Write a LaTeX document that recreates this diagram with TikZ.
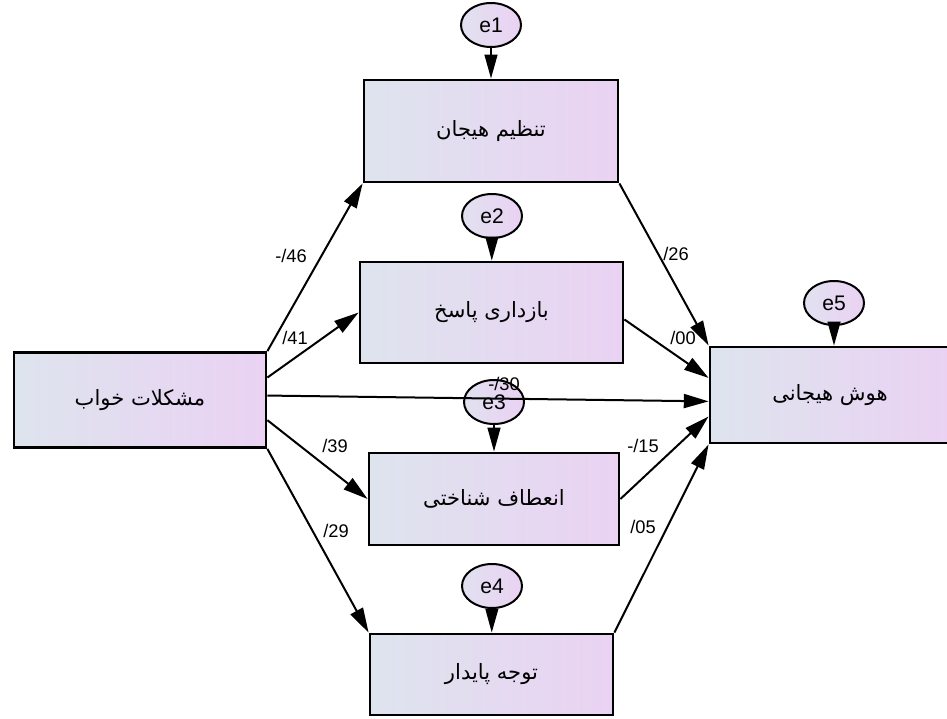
\documentclass[tikz,border=0pt]{standalone}
\usepackage{fontspec}
\setmainfont{Liberation Sans}
\newfontfamily\persiano[Script=Arabic]{DejaVu Sans}
\TeXXeTstate=1
\usepackage{tikz}
\definecolor{Grigioblu}{RGB}{222, 228, 238}
\definecolor{Lilla}{RGB}{234, 210, 243}
\definecolor{Lilla chiaro}{RGB}{230, 220, 242}
\usetikzlibrary{arrows.meta, shapes.geometric}
\tikzset{
    scatola/.style = {draw=black, line width=0.7mm, left color=Grigioblu, right color=Lilla, inner sep=0pt, font=\persiano\fontsize{15}{17}\selectfont},
    errore/.style = {ellipse, draw=black, line width=0.5mm, left color=Grigioblu!60!Lilla chiaro, right color=Lilla, inner sep=0pt, minimum width=15mm, minimum height=11mm, font=\fontsize{15}{17}\selectfont},
    coefficiente/.style = {inner sep=1pt, font=\fontsize{13}{15}\selectfont},
    freccia/.style = {line width=0.5mm, arrows = {-Triangle[length=6.2mm, width=3.5mm]}},
    freccia errore/.style = {line width=0.5mm, arrows = {-Triangle[length=6mm, width=3.2mm]}}
}

\begin{document}
\begin{tikzpicture}[x=0.25mm, y=-0.25mm]
    \useasboundingbox (0,0) rectangle (947,718);

    %%% Variables
    % predictor
    \node [scatola, minimum width=63mm, minimum height=23.75mm] (sonno) at (140,400) {\beginR مشکلات خواب\endR};
    % mediators
    \node [scatola, minimum width=63.5mm, minimum height=25.5mm] (regolazione) at (491,131) {\beginR تنظیم هیجان\endR};
    \node [scatola, minimum width=65.75mm, minimum height=25.25mm] (inibizione) at (491.5,312.5) {\beginR بازداری پاسخ\endR};
    \node [scatola, minimum width=62.5mm, minimum height=23mm] (flessibilita) at (494,499) {\beginR انعطاف شناختی\endR};
    \node [scatola, minimum width=60.75mm, minimum height=20.25mm] (attenzione) at (491.5,674.5) {\beginR توجه پایدار\endR};
    % outcome
    \node [scatola, minimum width=60mm, minimum height=24mm] (intelligenza) at (830,395) {\beginR هوش هیجانی\endR};

    %%% Errors
    \node [errore] (e1) at (491,25)  {e1};
    \node [errore] (e2) at (492,216) {e2};
    \node [errore] (e3) at (494,402) {e3};
    \node [errore] (e4) at (492,586) {e4};
    \node [errore] (e5) at (834,303) {e5};

    \draw[freccia errore] (e1) -- (regolazione);
    \draw[freccia errore] (e2) -- (inibizione);
    \draw[freccia errore] (e3) -- (flessibilita);
    \draw[freccia errore] (e4) -- (attenzione);
    \draw[freccia errore] (e5) -- (e5 |- intelligenza.north);

    %%% Paths
    \draw[freccia] (sonno.north east) -- (regolazione.south west);
    \draw[freccia] (sonno.10)         -- (inibizione.west);
    \draw[freccia] (sonno.2)          -- (intelligenza.183);
    \draw[freccia] (sonno.-9)         -- (flessibilita.west);
    \draw[freccia] (sonno.south east) -- (attenzione.north west);

    \draw[freccia] (regolazione.south east) -- (intelligenza.north west);
    \draw[freccia] (inibizione.-3)          -- (intelligenza.172);
    \draw[freccia] (flessibilita.east)      -- (intelligenza.190);
    \draw[freccia] (attenzione.north east)  -- (intelligenza.south west);

    % coefficients
    \node [coefficiente] (c46) at (291,256) {-/46};
    \node [coefficiente] (c41) at (295,338) {/41};
    \node [coefficiente] (c30) at (504,384) {-/30};
    \node [coefficiente] (c39) at (335,446) {/39};
    \node [coefficiente] (c29) at (336,531) {/29};
    \node [coefficiente] (c26) at (676,254) {/26};
    \node [coefficiente] (c00) at (683,338) {/00};
    \node [coefficiente] (c15) at (643,446) {-/15};
    \node [coefficiente] (c05) at (643,527) {/05};
\end{tikzpicture}
\end{document}
